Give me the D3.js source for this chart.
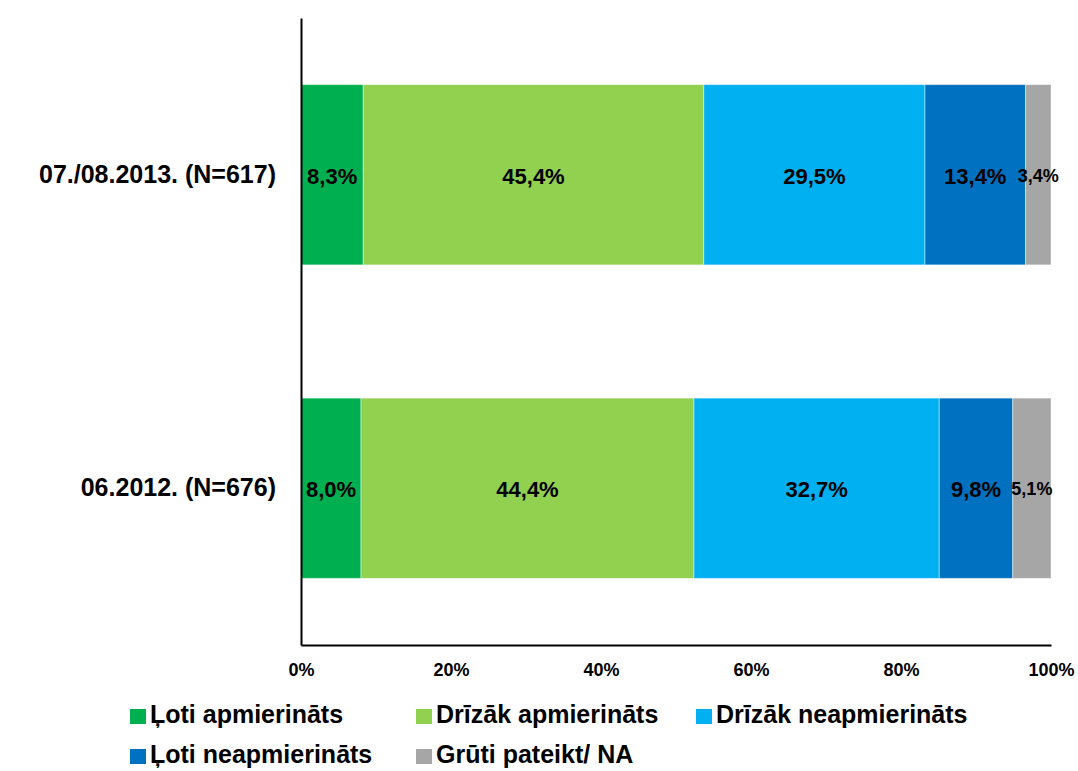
<!DOCTYPE html>
<html>
<head>
<meta charset="utf-8">
<script src="https://cdn.jsdelivr.net/npm/d3@7"></script>
<style>
  body { margin: 0; background: #fff; }
  text { font-family: "Liberation Sans", Arial, sans-serif; font-weight: bold; }
</style>
</head>
<body>
<script>
// data
var periods = ["07./08.2013. (N=617)", "06.2012. (N=676)"];
var seriesNames = ["Ļoti apmierināts", "Drīzāk apmierināts", "Drīzāk neapmierināts", "Ļoti neapmierināts", "Grūti pateikt/ NA"];
var values2013 = [8.3, 45.4, 29.5, 13.4, 3.4];
var values2012 = [8.0, 44.4, 32.7, 9.8, 5.1];
var tickValues = [0, 20, 40, 60, 80, 100];
var colors = ["#00B050", "#92D050", "#00B0F0", "#0070C0", "#A6A6A6"];

var svgWidth = 1078, svgHeight = 771;
var margin = { top: 18, left: 301, right: 27, bottom: 126 };
var chartWidth = svgWidth - margin.left - margin.right;
var chartHeight = svgHeight - margin.top - margin.bottom;

var svg = d3.select("body").append("svg")
  .attr("width", svgWidth)
  .attr("height", svgHeight);

var chartGroup = svg.append("g")
  .attr("transform", `translate(${margin.left}, ${margin.top})`);

var xScale = d3.scaleLinear().domain([0, 100]).range([0, chartWidth]);
var yScale = d3.scaleBand().domain(periods).range([0, chartHeight]).paddingInner(0.425).paddingOuter(0.2125);

var rows = [values2013, values2012].map(function(vals, i) {
  var acc = 0;
  return vals.map(function(v, j) {
    var seg = { period: periods[i], x0: acc, x1: acc + v, value: v, idx: j };
    acc += v;
    return seg;
  });
});

var segs = rows.flat();

chartGroup.selectAll(".seg")
  .data(segs)
  .enter()
  .append("rect")
  .attr("class", "seg")
  .attr("x", d => xScale(d.x0))
  .attr("y", d => yScale(d.period))
  .attr("width", d => xScale(d.x1) - xScale(d.x0))
  .attr("height", yScale.bandwidth())
  .attr("fill", d => colors[d.idx])
  .attr("stroke", "rgba(255,255,255,0.45)")
  .attr("stroke-width", 1);

chartGroup.selectAll(".lbl")
  .data(segs)
  .enter()
  .append("text")
  .attr("class", "lbl")
  .attr("x", d => (xScale(d.x0) + xScale(d.x1)) / 2)
  .attr("y", d => yScale(d.period) + yScale.bandwidth() / 2)
  .attr("dy", "0.4em")
  .attr("text-anchor", "middle")
  .attr("font-size", d => d.idx === 4 ? 18 : 22)
  .text(d => d.value.toFixed(1).replace(".", ",") + "%");

// axes
var xAxis = d3.axisBottom(xScale).tickValues(tickValues).tickSize(0).tickFormat(d => d + "%");
var gx = chartGroup.append("g")
  .attr("transform", `translate(0,${chartHeight})`)
  .call(xAxis);
gx.select(".domain").attr("stroke", "#000").attr("stroke-width", 2);
gx.selectAll("text").attr("font-size", 18).attr("y", 31).attr("dy", 0).attr("fill", "#000");

var yAxis = d3.axisLeft(yScale).tickSize(0).tickPadding(25);
var gy = chartGroup.append("g").call(yAxis);
gy.select(".domain").attr("stroke", "#000").attr("stroke-width", 2);
gy.selectAll("text").attr("font-size", 25).attr("fill", "#000");

// legend
var legendPos = [[130, 723], [416, 723], [696, 723], [130, 763], [416, 763]];
var legend = svg.selectAll(".legend")
  .data(seriesNames)
  .enter()
  .append("g")
  .attr("class", "legend")
  .attr("transform", (d, i) => `translate(${legendPos[i][0]},${legendPos[i][1]})`);

legend.append("rect")
  .attr("x", 0).attr("y", -14)
  .attr("width", 16).attr("height", 15)
  .attr("fill", (d, i) => colors[i]);

legend.append("text")
  .attr("x", 20)
  .attr("font-size", 25)
  .text(d => d);
</script>
</body>
</html>
